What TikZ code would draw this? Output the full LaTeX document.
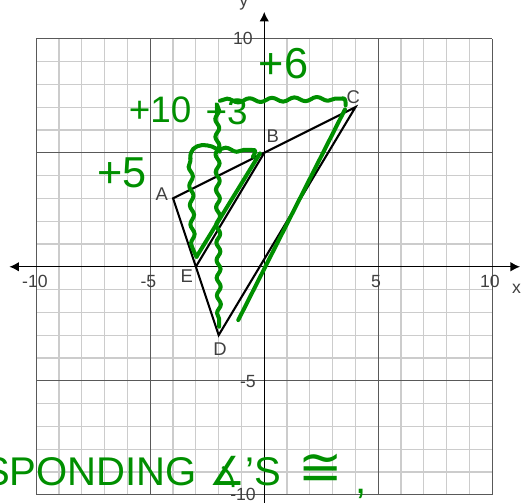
\documentclass[tikz,border=0pt]{standalone}
\usepackage{amsmath,amssymb}
\usepackage{fontspec}
\setmainfont{Liberation Sans}
\newfontfamily\symbfont{DejaVu Sans}
\usetikzlibrary{arrows.meta,decorations.pathmorphing}
\definecolor{gridcolor}{rgb}{0.80,0.80,0.80}
\definecolor{majorcolor}{rgb}{0.35,0.35,0.35}
\definecolor{labelcolor}{rgb}{0.25,0.25,0.25}
\definecolor{inkgreen}{rgb}{0.0,0.56,0.0}
\tikzset{
  ticklabel/.style={text=labelcolor, font=\fontsize{22}{24}\selectfont, inner sep=0pt},
  pointlabel/.style={text=labelcolor, font=\fontsize{23}{25}\selectfont, inner sep=0pt},
  axisline/.style={draw=black, line width=1.8pt},
  tri/.style={draw=black, line width=2.6pt, line join=miter},
  inknote/.style={text=inkgreen, inner sep=0pt},
  inkline/.style={draw=inkgreen, line width=5pt, line cap=round, line join=round},
  wiggle/.style={inkline, decorate, decoration={snake, amplitude=2.5pt, segment length=28pt}},
}

\begin{document}
\begin{tikzpicture}
\useasboundingbox (-11.59,-10.32) rectangle (11.48,11.70);
        \begin{scope}
\draw[gridcolor, line width=1.6pt] (-10,-10) grid (10,10);
\draw[majorcolor, line width=1pt, step=5] (-10,-10) grid (10,10);
\coordinate (xl) at (-11.18,0);
\coordinate (xr) at (11.22,0);
\coordinate (yb) at (0,-10.6);
\coordinate (yt) at (0,11.18);
\draw[axisline, {Latex[length=12pt,width=12pt]}-{Latex[length=12pt,width=12pt]}] (xl) -- (xr);
\draw[axisline, -{Latex[length=12pt,width=12pt]}] (yb) -- (yt);
\node[ticklabel] (xmten) at (-10.06,-0.66) {-10};
\node[ticklabel] (xmfive) at (-5.08,-0.66) {-5};
\node[ticklabel] (xfive) at (4.9,-0.66) {5};
\node[ticklabel] (xten) at (9.9,-0.66) {10};
\node[ticklabel] (xname) at (11.07,-0.95) {x};
\node[ticklabel, anchor=base] (yname) at (-0.9,11.43) {y};
\node[ticklabel] (yten) at (-0.94,10.02) {10};
\node[ticklabel] (ymfive) at (-0.72,-5.04) {-5};
\node[ticklabel] (ymten) at (-0.93,-10.0) {-10};
        \end{scope}
        \begin{scope}
\coordinate (A) at (-4,3);
\coordinate (B) at (0,5);
\coordinate (C) at (4,7);
\coordinate (D) at (-2,-3);
\coordinate (E) at (-3,0);
\draw[tri] (A) -- (C) -- (D) -- cycle;
\draw[tri] (B) -- (E);
\node[pointlabel] (labA) at (-4.5,3.19) {A};
\node[pointlabel] (labB) at (0.37,5.73) {B};
\node[pointlabel] (labC) at (3.9,7.46) {C};
\node[pointlabel] (labD) at (-1.94,-3.61) {D};
\node[pointlabel] (labE) at (-3.4,-0.41) {E};
        \end{scope}
        \begin{scope}
\coordinate (topL) at (-1.94,7.28);
\coordinate (topR) at (3.45,7.38);
\draw[wiggle] (topL) -- (topR);
\draw[inkline] (topR) to[out=20,in=90] ++(0.12,-0.3);
\coordinate (vtop) at (-2.07,7.1);
\coordinate (vbot) at (-1.98,-2.63);
\draw[wiggle, decoration={segment length=22pt}] (vtop) -- (vbot);
\coordinate (midL) at (-2.0,5.14);
\coordinate (midR) at (-0.45,5.12);
\draw[wiggle] (midL) -- (midR);
\draw[inkline] (midR) to[out=0,in=60] ++(-0.05,-0.3);
\coordinate (loopB) at (-3.12,0.75);
\coordinate (loopT) at (-3.24,4.75);
\draw[wiggle, decoration={segment length=24pt}] (loopB) -- (loopT);
\draw[inkline] (loopT) .. controls (-3.3,5.5) and (-2.3,5.45) .. (-1.95,5.05);
\coordinate (parL) at (-2.97,0.44);
\coordinate (parR) at (-0.19,4.97);
\draw[inkline] (parL) -- (parR);
\draw[inkline] (loopB) -- (parL);
\coordinate (farT) at (3.54,6.9);
\coordinate (farB) at (-1.14,-2.34);
\draw[inkline] (farT) -- (farB);
\node[inknote, font=\fontsize{54}{56}\selectfont] (plussix) at (0.85,8.93) {+6};
\node[inknote, font=\fontsize{46}{48}\selectfont] (plusten) at (-4.57,6.87) {+10};
\node[inknote, font=\fontsize{46}{48}\selectfont] (plusthree) at (-1.65,6.8) {+3};
\node[inknote, font=\fontsize{54}{56}\selectfont] (plusfive) at (-6.25,4.1) {+5};
\node[inknote, anchor=base west, font=\fontsize{50}{52}\selectfont] (rule) at (-12.34,-9.6)
  {SPONDING\hspace{16pt}{\symbfont ∡}'S\hspace{22pt}{\symbfont\fontsize{66}{68}\selectfont ≅}\hspace{16pt}\raisebox{-10pt}{,}};
        \end{scope}
    \end{tikzpicture}
\end{document}
